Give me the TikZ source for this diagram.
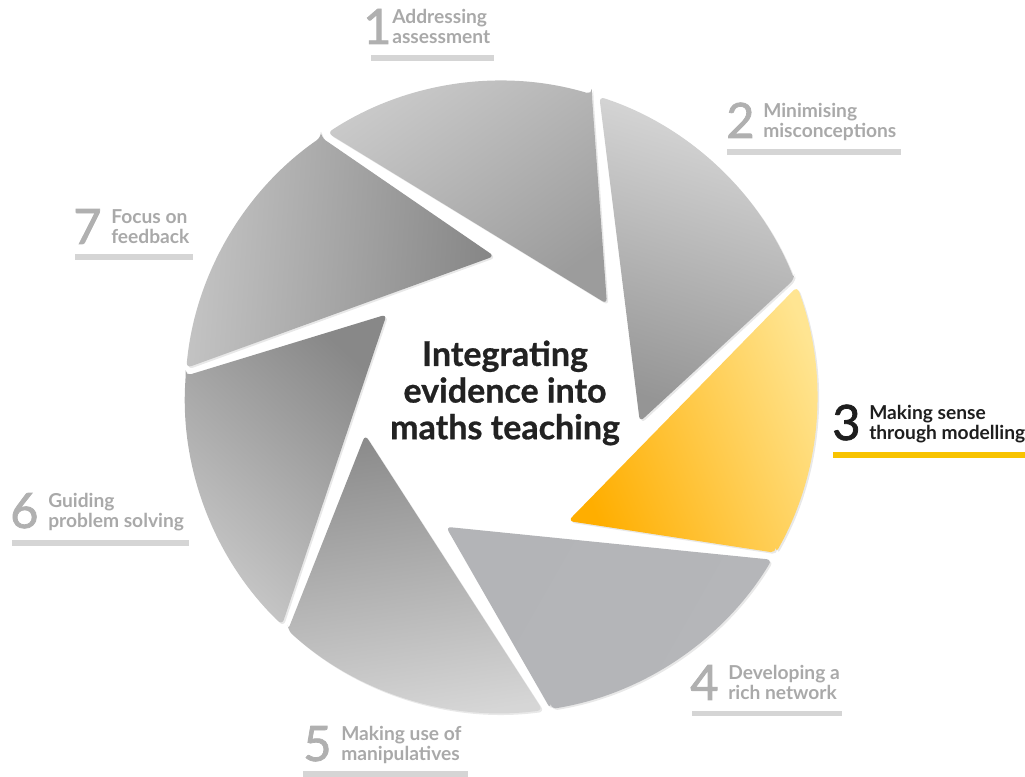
\documentclass[tikz,border=0pt]{standalone}
\usepackage{fontspec}
\setmainfont{Lato}
\newfontfamily\digitfont[FakeBold=1.6]{Lato}
\newfontfamily\titlefont[FakeBold=0.8]{Lato}
\definecolor{lblgray}{HTML}{A9A9A9}
\definecolor{digitgray}{HTML}{B0B0B0}
\definecolor{bargray}{HTML}{D5D5D5}
\definecolor{barYellow}{HTML}{F8C300}
\definecolor{titlec}{HTML}{222222}
\definecolor{darktext}{HTML}{1E1E1E}
\definecolor{Ba}{HTML}{CACACA}\definecolor{Bb}{HTML}{9C9C9C}
\definecolor{Ca}{HTML}{D8D8D8}\definecolor{Cb}{HTML}{959595}
\definecolor{Da}{HTML}{FFE592}\definecolor{Db}{HTML}{FFAE00}
\definecolor{Ea}{HTML}{B5B6B9}\definecolor{Eb}{HTML}{B3B4B7}
\definecolor{Fa}{HTML}{D6D6D6}\definecolor{Fb}{HTML}{8C8C8C}
\definecolor{Ga}{HTML}{C8C8C8}\definecolor{Gb}{HTML}{888888}
\definecolor{Ha}{HTML}{C4C4C4}\definecolor{Hb}{HTML}{868686}
\tikzset{
  digit/.style={font=\digitfont\fontsize{36.6}{36.6}\selectfont, text=digitgray, inner sep=0pt, anchor=base west},
  lbl/.style={font=\bfseries\fontsize{14.4}{15}\selectfont, text=lblgray, inner sep=0pt, anchor=base west},
  bar/.style={fill=bargray},
  ybarstyle/.style={fill=barYellow},
  title/.style={font=\titlefont\bfseries\fontsize{25.5}{27.5}\selectfont, text=titlec, align=center, inner sep=0pt},
  bladeshadow/.style={fill=black, opacity=0.09},
}
\begin{document}
\begin{tikzpicture}[x=0.75pt, y=0.75pt]
\useasboundingbox (0,0) rectangle (1025,777);
% blades
\begin{scope}[shift={(501,380)}]
  \foreach \k in {1,...,7} {
    \pgfmathsetmacro\t{41.3-51.43*(\k-1)}
    \fill[bladeshadow, xshift=1.2pt, yshift=-1.2pt, rounded corners=4pt]
      (\t+32:316) -- (\t:141) -- (\t+82:316)
      arc[start angle=\t+82, end angle=\t+32, radius=316] -- cycle;
  }
  \foreach \k/\ca/\cb in {1/Ba/Bb,2/Ca/Cb,3/Da/Db,4/Ea/Eb,5/Fa/Fb,6/Ga/Gb,7/Ha/Hb} {
    \pgfmathsetmacro\t{41.3-51.43*(\k-1)}
    \pgfmathsetmacro\sa{124.6-51.43*(\k-1)-90}
    \shade[top color=\ca, bottom color=\cb, shading angle=\sa, rounded corners=4pt]
      (\t+32:316) -- (\t:141) -- (\t+82:316)
      arc[start angle=\t+82, end angle=\t+32, radius=316] -- cycle;
  }
\end{scope}
% title
\node[title] (title) at (505,384) {Integrating\\evidence into\\maths teaching};
% label 1
\node[digit] (d1) at (363,733) {1};
\node[lbl] (t1a) at (392,753) {Addressing};
\node[lbl] (t1b) at (392,733) {assessment};
\fill[bar] (371,716) rectangle (494,722);
% label 2
\node[digit] (d2) at (726,639) {2};
\node[lbl] (t2a) at (763,659) {Minimising};
\node[lbl] (t2b) at (763,639) {misconceptions};
\fill[bar] (727,622) rectangle (901,628);
% label 3
\node[digit, text=darktext] (d3) at (832,337) {3};
\node[lbl, text=darktext] (t3a) at (869,357) {Making sense};
\node[lbl, text=darktext] (t3b) at (869,337) {through modelling};
\fill[ybarstyle] (833,319) rectangle (1025,325);
% label 4
\node[digit] (d4) at (690,77) {4};
\node[lbl] (t4a) at (728,97) {Developing a};
\node[lbl] (t4b) at (728,77) {rich network};
\fill[bar] (692,61) rectangle (842,66);
% label 5
\node[digit] (d5) at (303,16) {5};
\node[lbl] (t5a) at (341,36) {Making use of};
\node[lbl] (t5b) at (341,16) {manipulatives};
\fill[bar] (303,0) rectangle (468,6);
% label 6
\node[digit] (d6) at (10,249) {6};
\node[lbl] (t6a) at (48,269) {Guiding};
\node[lbl] (t6b) at (48,249) {problem solving};
\fill[bar] (12,231) rectangle (189,237);
% label 7
\node[digit] (d7) at (73,533) {7};
\node[lbl] (t7a) at (111,553) {Focus on};
\node[lbl] (t7b) at (111,533) {feedback};
\fill[bar] (75,517) rectangle (193,523);
\end{tikzpicture}
\end{document}
